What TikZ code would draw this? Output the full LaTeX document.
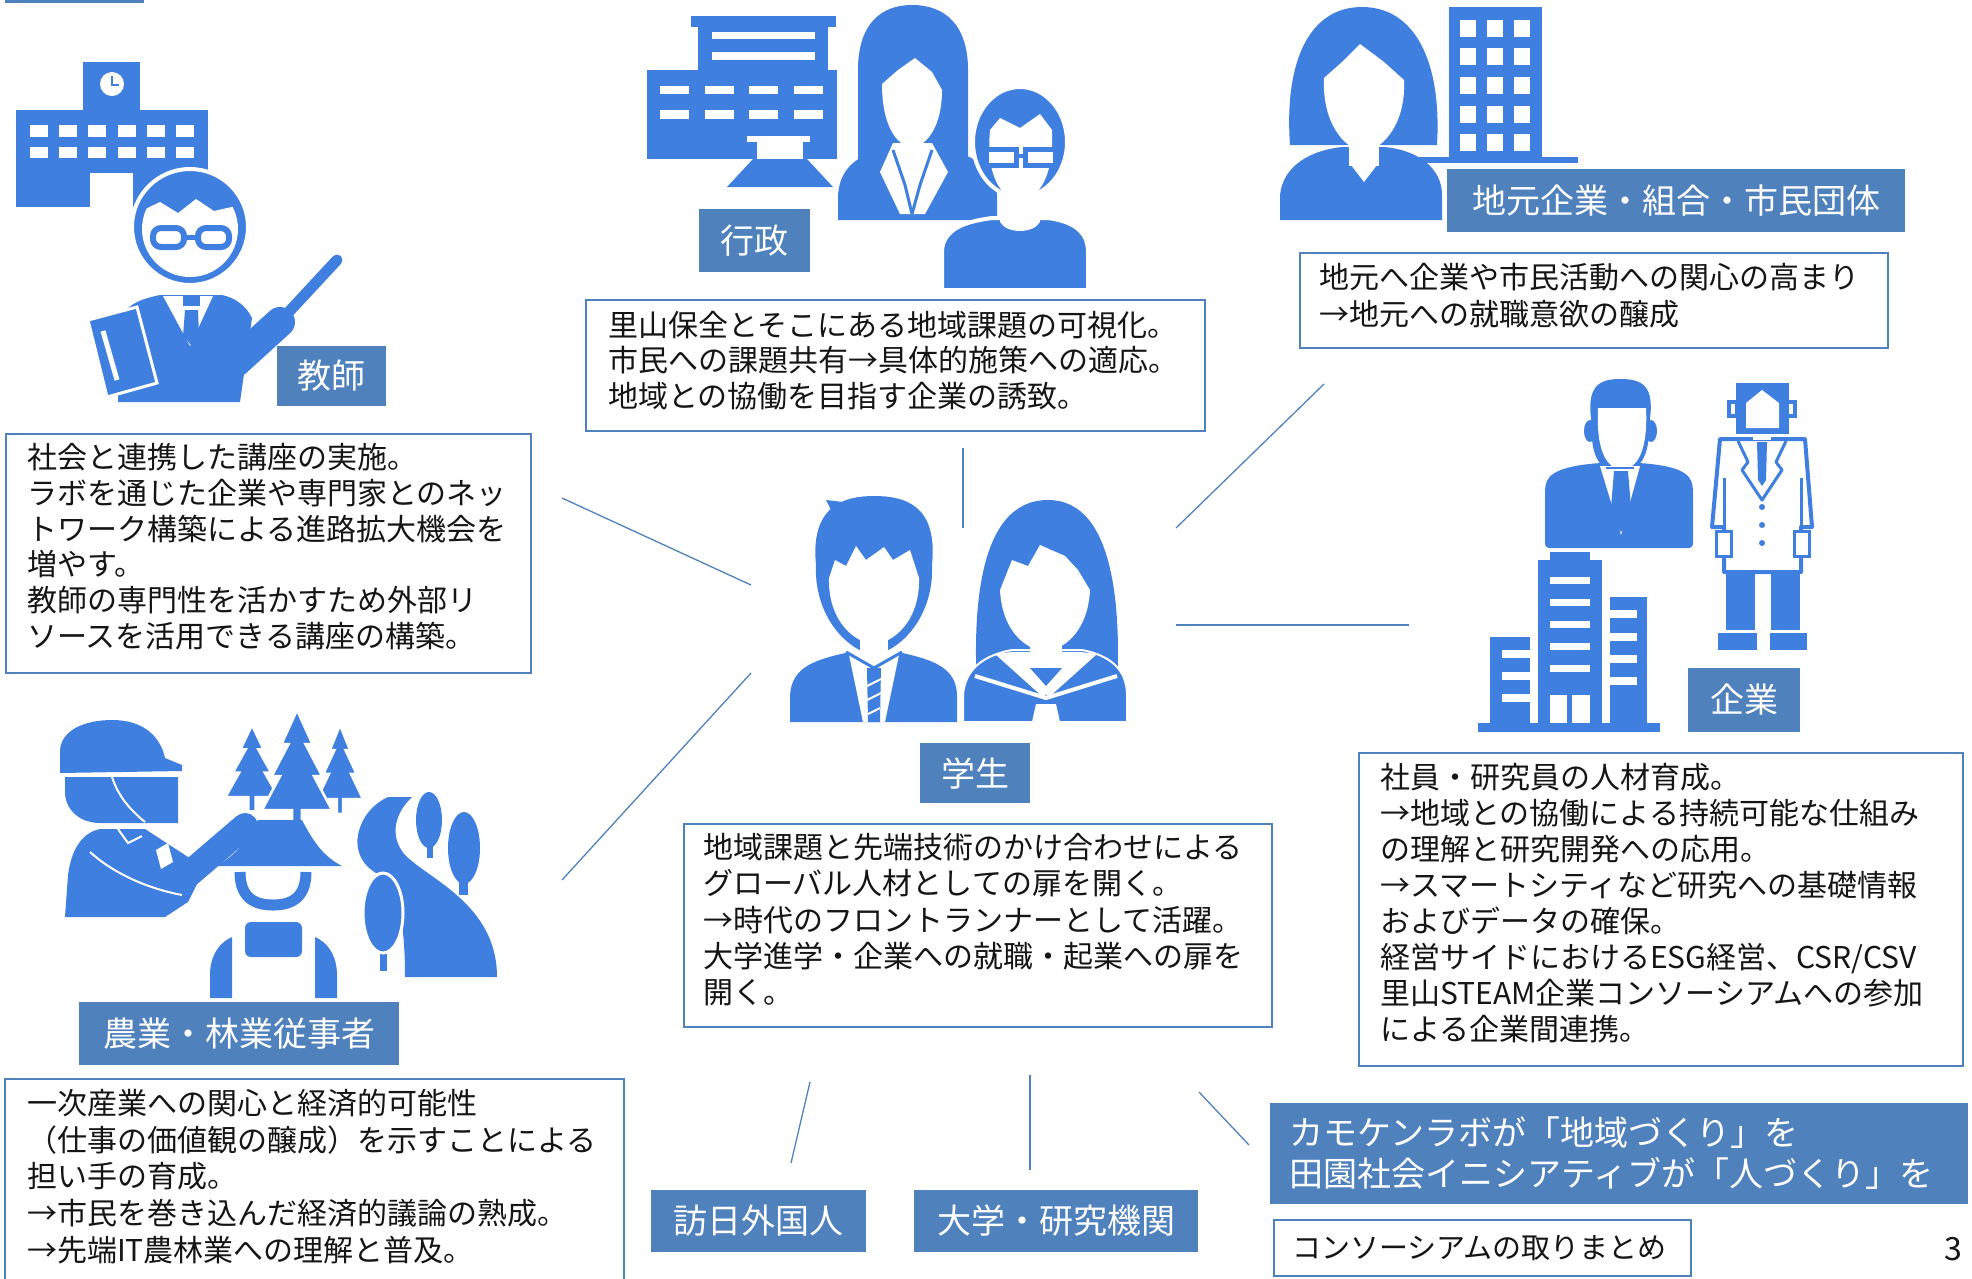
\documentclass[tikz,border=0pt]{standalone}
\usepackage{fontspec}
\setmainfont{Noto Sans CJK JP}
\definecolor{icon}{HTML}{3F7FDF}
\definecolor{tag}{HTML}{4F81BD}
\definecolor{ink}{HTML}{151515}
% conifer: apex x, apex y, foliage width, foliage height
\newcommand\firtree[4]{%
  \fill[icon, draw=white, line width=2.5pt]
    (#1,#2) -- ({#1+0.22*#3},{#2+0.34*#4}) -- ({#1+0.12*#3},{#2+0.34*#4})
    -- ({#1+0.36*#3},{#2+0.66*#4}) -- ({#1+0.24*#3},{#2+0.66*#4})
    -- ({#1+0.5*#3},{#2+#4}) -- ({#1+0.07*#3},{#2+#4})
    -- ({#1+0.07*#3},{#2+1.2*#4}) -- ({#1-0.07*#3},{#2+1.2*#4})
    -- ({#1-0.07*#3},{#2+#4}) -- ({#1-0.5*#3},{#2+#4})
    -- ({#1-0.24*#3},{#2+0.66*#4}) -- ({#1-0.36*#3},{#2+0.66*#4})
    -- ({#1-0.12*#3},{#2+0.34*#4}) -- ({#1-0.22*#3},{#2+0.34*#4}) -- cycle;}
\begin{document}
\begin{tikzpicture}[x=1pt,y=-1pt,
  tagbox/.style={fill=tag, text=white, inner sep=0pt, font=\fontsize{34}{40}\selectfont},
  infobox/.style={draw=tag, line width=1.8pt, fill=white, inner sep=0pt, anchor=north west},
  infotext/.style={anchor=base west, align=left, inner sep=0pt, text width=640pt, text=ink},
  link/.style={draw=tag, line width=1.3pt},
]
\useasboundingbox (0,0) rectangle (1972,1278);
\clip (0,0) rectangle (1972,1278);

% thin bar at the top edge
\fill[tag] (5,0) rectangle (144,3);

% ================= school and teacher =================
\fill[icon] (83,62) rectangle (140,110);
\fill[white] (112,84) circle[radius=12pt];
\draw[icon, line width=2pt] (112,76) -- (112,85) -- (119,85);
\fill[icon] (16,110) rectangle (208,173);
\fill[icon] (16,173) rectangle (90,207);
\fill[icon] (133,173) rectangle (208,207);
\foreach \wx in {30,59,88,118,147,176}{
  \fill[white] (\wx,125) rectangle ++(18,12);
  \fill[white] (\wx,147) rectangle ++(18,11);
}
% body
\fill[icon] (118,402) -- (118,330) .. controls (120,308) and (135,300) .. (160,295)
  -- (222,295) .. controls (236,298) and (246,306) .. (252,318) -- (240,402) -- cycle;
\draw[icon, line width=30pt, line cap=round] (236,362) -- (280,322);
\draw[icon, line width=11pt, line cap=round] (285,316) -- (337,260);
\fill[white] (163,296) -- (213,296) -- (190,346) -- cycle;
\fill[icon] (183,296) rectangle (200,306);
\fill[icon] (185,310) -- (198,310) -- (199,336) -- (191,345) -- (183,336) -- cycle;
% head
\fill[icon, draw=white, line width=4pt] (190,227) circle[radius=58pt];
\begin{scope}
  \clip (190,229) circle[radius=48pt];
  \fill[white] (135,275) -- (135,214) -- (160,202) -- (178,213) -- (196,199) -- (214,211) -- (245,204) -- (245,290) -- (135,290) -- cycle;
\end{scope}
\draw[icon, line width=6pt, fill=white, rounded corners=8pt] (153,228) rectangle (184,247);
\draw[icon, line width=6pt, fill=white, rounded corners=8pt] (198,228) rectangle (229,247);
\draw[icon, line width=5pt] (184,237) -- (198,237);
% book
\fill[icon, draw=white, line width=3pt] (88,320) -- (137,307) -- (157,383) -- (107,397) -- cycle;
\draw[white, line width=5pt] (103,331) -- (117,380);

% ================= city hall and citizens =================
\fill[icon] (691,16) rectangle (836,27);
\fill[icon] (698,27) rectangle (828,70);
\fill[white] (712,32) rectangle (815,39);
\fill[white] (712,52) rectangle (815,60);
\fill[icon] (647,70) rectangle (837,159);
\foreach \wx in {660,705,749,794}{
  \fill[white] (\wx,86) rectangle ++(29,8);
  \fill[white] (\wx,110) rectangle ++(29,9);
}
\fill[white] (747,136) rectangle (810,142);
\fill[white] (757,142) rectangle (803,159);
\fill[icon] (753,159) -- (807,159) -- (833,187) -- (727,187) -- cycle;
% woman
\fill[icon] (858,170) -- (858,70) .. controls (858,25) and (880,5) .. (912,5)
  .. controls (945,5) and (968,25) .. (968,70) -- (968,170) -- cycle;
\fill[icon] (838,220) -- (838,195) .. controls (840,165) and (862,152) .. (892,148)
  -- (935,148) .. controls (972,152) and (995,168) .. (997,195) -- (997,220) -- cycle;
\fill[white] (882,84) -- (898,70) -- (915,58) -- (932,72) -- (942,90)
  .. controls (942,125) and (928,145) .. (912,148) .. controls (896,145) and (882,125) .. (882,84) -- cycle;
\fill[white] (893,143) -- (932,143) -- (948,172) -- (925,214) -- (900,214) -- (880,172) -- cycle;
\draw[icon, line width=3pt] (893,150) -- (905,185) -- (912,214) (932,150) -- (920,185) -- (912,214);
% man with glasses
\fill[icon, draw=white, line width=4pt] (942,290) -- (942,250) .. controls (944,230) and (962,222) .. (992,218)
  -- (1048,218) .. controls (1078,222) and (1088,235) .. (1088,252) -- (1088,290) -- cycle;
\fill[icon, draw=white, line width=4pt] (1020,142) ellipse[x radius=47pt, y radius=55pt];
\fill[white] (990,130) -- (1000,118) -- (1020,128) -- (1040,114) -- (1052,130)
  .. controls (1054,175) and (1040,198) .. (1020,201) .. controls (1000,198) and (986,175) .. (990,130) -- cycle;
\fill[white] (1002,195) -- (1038,195) -- (1040,222) .. controls (1033,234) and (1007,234) .. (1000,222) -- cycle;
\draw[icon, line width=5pt, fill=white] (986,149) rectangle (1016,165);
\draw[icon, line width=5pt, fill=white] (1025,149) rectangle (1055,165);
\draw[icon, line width=4pt] (1016,156) -- (1025,156);

% ================= local business and citizen groups =================
\fill[icon] (1449,7) rectangle (1542,158);
\foreach \wy in {20,48,77,106,134}{
  \foreach \wx in {1460,1487,1514}{
    \fill[white] (\wx,\wy) rectangle ++(16,17);
  }
}
\fill[icon] (1419,157) rectangle (1578,163);
\fill[icon] (1290,145) .. controls (1284,60) and (1310,7) .. (1362,7)
  .. controls (1414,7) and (1442,60) .. (1437,145) -- cycle;
\fill[icon] (1280,220) -- (1280,195) .. controls (1283,165) and (1312,150) .. (1342,147)
  -- (1384,147) .. controls (1418,150) and (1442,168) .. (1442,195) -- (1442,220) -- cycle;
\fill[white] (1324,78) -- (1342,62) -- (1360,44) -- (1384,62) -- (1404,80)
  .. controls (1406,120) and (1386,148) .. (1364,152) .. controls (1342,148) and (1322,120) .. (1324,78) -- cycle;
\fill[white] (1349,140) rectangle (1379,166);
\fill[white] (1351,165) -- (1377,165) -- (1364,182) -- cycle;

% ================= students =================
% boy
\fill[icon] (790,722) -- (790,695) .. controls (792,668) and (812,660) .. (850,652)
  -- (898,652) .. controls (935,660) and (956,668) .. (957,695) -- (957,722) -- cycle;
\fill[icon] (816,565) .. controls (810,505) and (845,496) .. (874,496)
  .. controls (905,496) and (938,505) .. (932,565) .. controls (934,605) and (912,645) .. (874,656)
  .. controls (836,645) and (814,605) .. (816,565) -- cycle;
\fill[icon] (836,520) -- (826,500) -- (852,503) -- cycle;
\fill[white] (829,578) -- (835,560) -- (846,566) -- (856,546) -- (866,560) -- (884,547)
  -- (893,560) -- (910,550) -- (919,578) .. controls (920,615) and (900,640) .. (874,645)
  .. controls (848,640) and (828,615) .. (829,578) -- cycle;
\fill[white] (860,638) rectangle (888,655);
\fill[white] (848,650) -- (900,650) -- (885,722) -- (863,722) -- cycle;
\draw[icon, line width=3pt] (846,652) -- (874,668) -- (902,652);
\fill[icon] (867,668) -- (881,668) -- (880,722) -- (868,722) -- cycle;
\draw[white, line width=2pt] (867,686) -- (881,679) (867,700) -- (881,693) (868,714) -- (880,708);
% girl
\fill[icon] (978,705) .. controls (972,620) and (975,500) .. (1048,500)
  .. controls (1118,500) and (1122,620) .. (1116,705) -- cycle;
\fill[icon, draw=white, line width=2pt] (963,722) -- (963,695) .. controls (965,668) and (985,655) .. (1012,650)
  -- (1082,650) .. controls (1108,655) and (1127,668) .. (1127,695) -- (1127,722) -- cycle;
\fill[white] (1000,590) -- (1012,560) -- (1028,566) -- (1040,545) -- (1065,556) -- (1078,570)
  -- (1090,590) .. controls (1088,628) and (1068,648) .. (1045,652) .. controls (1022,648) and (1002,628) .. (1000,590) -- cycle;
\fill[white] (1030,640) rectangle (1062,662);
\fill[white] (1012,652) -- (1080,652) -- (1046,690) -- cycle;
\fill[icon] (1030,668) -- (1062,668) -- (1046,686) -- cycle;
\fill[white] (995,654) -- (1012,652) -- (1048,690) -- (1044,698) -- cycle;
\fill[white] (1097,654) -- (1080,652) -- (1044,690) -- (1048,698) -- cycle;
\draw[white, line width=4pt] (975,676) -- (1046,698) -- (1117,676);
\fill[white] (1036,704) -- (1056,704) -- (1060,722) -- (1032,722) -- cycle;

% ================= company staff and researcher =================
\fill[icon] (1550,552) rectangle (1590,560);
\fill[icon] (1538,560) rectangle (1602,723);
\fill[icon] (1610,597) rectangle (1647,723);
\fill[icon] (1490,637) rectangle (1530,723);
\fill[icon] (1478,723) rectangle (1660,732);
\foreach \wy in {577,599,621,643,665}{\fill[white] (1550,\wy) rectangle ++(40,7);}
\fill[white] (1550,695) rectangle (1567,723);
\fill[white] (1572,695) rectangle (1590,723);
\foreach \wy in {610,633,655,677}{\fill[white] (1610,\wy) rectangle ++(27,8);}
\foreach \wy in {650,672,694}{\fill[white] (1502,\wy) rectangle ++(28,8);}
% business man
\fill[icon, rounded corners=4pt] (1545,548) -- (1545,490) .. controls (1547,472) and (1565,466) .. (1600,463)
  -- (1640,463) .. controls (1675,466) and (1691,472) .. (1693,490) -- (1693,548) -- cycle;
\fill[icon] (1592,425) .. controls (1585,385) and (1600,379) .. (1620,379)
  .. controls (1642,379) and (1656,385) .. (1649,425) .. controls (1650,455) and (1640,472) .. (1620,474)
  .. controls (1600,472) and (1590,455) .. (1592,425) -- cycle;
\fill[icon] (1590,431) ellipse[x radius=6pt, y radius=11pt];
\fill[icon] (1651,431) ellipse[x radius=6pt, y radius=11pt];
\fill[white] (1598,408) -- (1646,408) .. controls (1648,450) and (1638,468) .. (1622,470)
  .. controls (1606,468) and (1596,450) .. (1598,408) -- cycle;
\fill[white] (1600,466) -- (1640,466) -- (1621,535) -- cycle;
\draw[icon, line width=2pt] (1606,468) -- (1634,468);
\fill[icon] (1614,471) -- (1628,471) -- (1632,520) -- (1621,532) -- (1610,520) -- cycle;
% researcher in lab coat
\fill[icon] (1726,573) rectangle (1755,630);
\fill[icon] (1771,573) rectangle (1800,630);
\fill[icon] (1718,633) rectangle (1757,650);
\fill[icon] (1770,633) rectangle (1807,650);
\draw[icon, line width=4pt, fill=white, line join=round] (1720,439) -- (1805,439) -- (1812,527)
  -- (1801,527) -- (1801,572) -- (1724,572) -- (1724,527) -- (1712,527) -- cycle;
\draw[icon, line width=3pt] (1724,478) -- (1724,527) (1801,478) -- (1801,527);
\draw[icon, line width=3pt, fill=white] (1716,531) rectangle (1731,556);
\draw[icon, line width=3pt, fill=white] (1794,531) rectangle (1809,556);
\draw[icon, line width=3pt, line join=round] (1738,441) -- (1748,462) -- (1742,470) -- (1762,500)
  -- (1782,470) -- (1776,462) -- (1786,441);
\fill[icon] (1757,442) -- (1767,442) -- (1766,480) -- (1762,486) -- (1758,480) -- cycle;
\foreach \by in {507,525,543}{\fill[icon] (1762,\by) circle[radius=3pt];}
\fill[icon] (1736,383) rectangle (1789,434);
\fill[icon] (1727,400) rectangle (1797,418);
\fill[white] (1731,404) rectangle (1735,414);
\fill[white] (1789,404) rectangle (1793,414);
\fill[white] (1746,403) -- (1762,390) -- (1779,403) -- (1779,428) -- (1746,428) -- cycle;
\fill[white] (1753,434) rectangle (1771,440);

% ================= farming and forestry =================
\firtree{252}{725}{53}{72}
\firtree{340}{725}{46}{74}
\firtree{297}{710}{70}{100}
% worker with helmet
\fill[icon] (65,917) -- (68,875) .. controls (72,845) and (85,832) .. (100,829)
  -- (145,829) -- (205,868) -- (188,902) -- (165,917) -- cycle;
\draw[icon, line width=26pt, line cap=round] (182,880) -- (245,826);
\draw[white, line width=2pt] (90,852) .. controls (112,872) and (145,888) .. (182,895);
\draw[white, line width=2pt] (118,829) -- (128,843) -- (142,836);
\fill[white] (156,850) -- (168,843) -- (173,862) -- (161,869) -- cycle;
\fill[icon] (65,777) -- (178,777) -- (178,823) -- (100,823) .. controls (78,823) and (65,808) .. (65,792) -- cycle;
\draw[white, line width=2pt] (112,777) .. controls (118,795) and (128,808) .. (145,822);
\fill[icon] (60,773) -- (60,752) .. controls (60,730) and (85,720) .. (112,720)
  .. controls (142,720) and (160,735) .. (165,758) -- (182,765) -- (182,771) -- cycle;
% farmer with straw hat
\fill[icon] (258,820) -- (302,820) .. controls (315,845) and (325,857) .. (342,866)
  -- (216,866) .. controls (233,857) and (245,845) .. (258,820) -- cycle;
\draw[icon, line width=11pt] (240,872) .. controls (240,898) and (255,905) .. (273,905)
  .. controls (291,905) and (306,898) .. (306,872);
\fill[icon, rounded corners=6pt] (245,922) rectangle (302,957);
\fill[icon] (210,998) -- (210,975) .. controls (210,955) and (220,942) .. (232,937) -- (232,998) -- cycle;
\fill[icon] (337,998) -- (337,975) .. controls (337,955) and (327,942) .. (315,937) -- (315,998) -- cycle;
% winding road with trees
\fill[icon] (388,797) -- (412,797) .. controls (396,812) and (388,835) .. (405,855)
  .. controls (430,880) and (497,905) .. (497,977) -- (405,977)
  .. controls (405,930) and (400,885) .. (378,874) .. controls (362,866) and (355,850) .. (358,835)
  .. controls (362,815) and (375,803) .. (388,797) -- cycle;
\fill[icon] (427,840) rectangle (433,858);
\fill[icon] (429,820) ellipse[x radius=13pt, y radius=28pt];
\fill[icon] (459,878) rectangle (468,895);
\fill[icon] (464,848) ellipse[x radius=16pt, y radius=36pt];
\fill[icon, draw=white, line width=3pt] (378,945) rectangle (388,972);
\fill[icon, draw=white, line width=3pt] (383,913) ellipse[x radius=20pt, y radius=40pt];

% ================= connectors =================
\coordinate (tA) at (562,498);  \coordinate (tB) at (751,585);
\coordinate (gA) at (963,448);  \coordinate (gB) at (963,528);
\coordinate (lA) at (1324,384); \coordinate (lB) at (1176,528);
\coordinate (cA) at (1176,625); \coordinate (cB) at (1409,625);
\coordinate (fA) at (751,673);  \coordinate (fB) at (562,880);
\coordinate (vA) at (810,1082); \coordinate (vB) at (791,1163);
\coordinate (uA) at (1030,1075);\coordinate (uB) at (1030,1170);
\coordinate (kA) at (1199,1092);\coordinate (kB) at (1249,1145);
\draw[link] (tA) -- (tB);
\draw[link] (gA) -- (gB);
\draw[link] (lA) -- (lB);
\draw[link] (cA) -- (cB);
\draw[link] (fA) -- (fB);
\draw[link] (vA) -- (vB);
\draw[link] (uA) -- (uB);
\draw[link] (kA) -- (kB);

% ================= description boxes =================
\node[infobox, minimum width=525pt, minimum height=239pt] (boxTeacher) at (5,433) {};
\node[infotext, font=\fontsize{30}{35.8}\selectfont] (txtTeacher) at (27,468.4)
  {社会と連携した講座の実施。\\ラボを通じた企業や専門家とのネッ\\トワーク構築による進路拡大機会を\\増やす。\\教師の専門性を活かすため外部リ\\ソースを活用できる講座の構築。};

\node[infobox, minimum width=619pt, minimum height=131pt] (boxGov) at (585,299) {};
\node[infotext, font=\fontsize{30}{35.5}\selectfont] (txtGov) at (608,336.4)
  {里山保全とそこにある地域課題の可視化。\\市民への課題共有→具体的施策への適応。\\地域との協働を目指す企業の誘致。};

\node[infobox, minimum width=588pt, minimum height=95pt] (boxLocal) at (1299,252) {};
\node[infotext, font=\fontsize{30}{37}\selectfont] (txtLocal) at (1319,288.4)
  {地元へ企業や市民活動への関心の高まり\\→地元への就職意欲の醸成};

\node[infobox, minimum width=588pt, minimum height=203pt] (boxStudent) at (683,823) {};
\node[infotext, font=\fontsize{30}{36.3}\selectfont] (txtStudent) at (703,858.4)
  {地域課題と先端技術のかけ合わせによる\\グローバル人材としての扉を開く。\\→時代のフロントランナーとして活躍。\\大学進学・企業への就職・起業への扉を\\開く。};

\node[infobox, minimum width=604pt, minimum height=313pt] (boxCompany) at (1358,752) {};
\node[infotext, font=\fontsize{30}{36.1}\selectfont] (txtCompany) at (1380,788)
  {社員・研究員の人材育成。\\→地域との協働による持続可能な仕組み\\の理解と研究開発への応用。\\→スマートシティなど研究への基礎情報\\およびデータの確保。\\経営サイドにおけるESG経営、CSR/CSV\\里山STEAM企業コンソーシアムへの参加\\による企業間連携。};

\node[infobox, minimum width=619pt, minimum height=240pt] (boxFarm) at (4,1078) {};
\node[infotext, font=\fontsize{30}{36.7}\selectfont] (txtFarm) at (27,1114.4)
  {一次産業への関心と経済的可能性\\（仕事の価値観の醸成）を示すことによる\\担い手の育成。\\→市民を巻き込んだ経済的議論の熟成。\\→先端IT農林業への理解と普及。};

\node[infobox, minimum width=417pt, minimum height=56pt] (boxConsort) at (1273,1219) {};
\node[infotext, font=\fontsize{29}{34}\selectfont] (txtConsort) at (1292,1258) {コンソーシアムの取りまとめ};

% ================= labels =================
\node[tagbox, minimum width=109pt, minimum height=60pt] (tagTeacher) at (331.5,376) {教師};
\node[tagbox, minimum width=111pt, minimum height=63pt] (tagGov) at (754.5,240.5) {行政};
\node[tagbox, minimum width=458pt, minimum height=63pt] (tagLocal) at (1676,200.5) {地元企業・組合・市民団体};
\node[tagbox, minimum width=110pt, minimum height=60pt] (tagStudent) at (975,773) {学生};
\node[tagbox, minimum width=112pt, minimum height=64pt] (tagCompany) at (1744,700) {企業};
\node[tagbox, minimum width=320pt, minimum height=63pt] (tagFarm) at (239,1033.5) {農業・林業従事者};
\node[tagbox, minimum width=215pt, minimum height=62pt] (tagVisitor) at (758.5,1221) {訪日外国人};
\node[tagbox, minimum width=284pt, minimum height=62pt] (tagUniv) at (1056,1221) {大学・研究機関};
\node[tagbox, minimum width=698pt, minimum height=101pt] (tagLab) at (1619,1153.5) {};
\node[infotext, text=white, font=\fontsize{34}{41}\selectfont] (txtLab) at (1289,1145)
  {カモケンラボが「地域づくり」を\\田園社会イニシアティブが「人づくり」を};

\node[anchor=base, inner sep=0pt, text=ink, font=\fontsize{32}{36}\selectfont] (pageNo) at (1953,1260) {3};
\end{tikzpicture}
\end{document}
